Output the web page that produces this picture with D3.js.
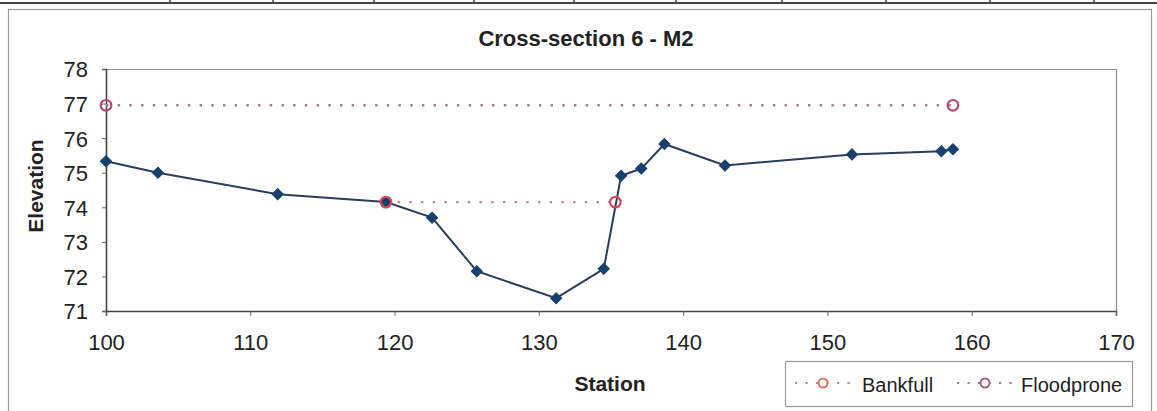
<!DOCTYPE html>
<html>
<head>
<meta charset="utf-8">
<script src="https://cdn.jsdelivr.net/npm/d3@7"></script>
<style>
  html, body { margin: 0; padding: 0; background: #fff; }
  svg { display: block; font-family: "Liberation Sans", Arial, sans-serif; }
</style>
</head>
<body>
<svg id="chart" width="1157" height="411"></svg>
<script>
// Surveyed ground profile (station, elevation)
const stations   = [100, 103.6, 111.9, 119.4, 122.6, 125.7, 131.2, 134.5, 135.7, 137.1, 138.7, 142.9, 151.7, 157.9, 158.7];
const elevations = [75.33, 75.0, 74.38, 74.15, 73.7, 72.15, 71.37, 72.22, 74.91, 75.12, 75.83, 75.21, 75.53, 75.62, 75.68];

// Bankfull and floodprone water surfaces
const bankfullStations   = [119.4, 135.3];
const bankfullElev       = [74.15, 74.15];
const floodproneStations = [100, 158.7];
const floodproneElev     = [76.95, 76.95];

// Axis ticks
const xTicks = [100, 110, 120, 130, 140, 150, 160, 170];
const yTicks = [71, 72, 73, 74, 75, 76, 77, 78];

const svg = d3.select("#chart");
const plot = { left: 106, right: 1116, top: 69, bottom: 311 };

const x = d3.scaleLinear().domain([100, 170]).range([plot.left, plot.right]);
const y = d3.scaleLinear().domain([71, 78]).range([plot.bottom, plot.top]);

// Document table rule above the chart
const tableCols = [170, 273, 374, 474, 574, 676, 782, 886, 990, 1094];
svg.append("line").attr("x1", 0).attr("x2", 1157).attr("y1", 3).attr("y2", 3)
  .attr("stroke", "#444").attr("stroke-width", 2);
svg.selectAll("line.tcol").data(tableCols).join("line").attr("class", "tcol")
  .attr("x1", d => d).attr("x2", d => d).attr("y1", 0).attr("y2", 4)
  .attr("stroke", "#444").attr("stroke-width", 1.5);

// Chart frame
svg.append("rect").attr("x", 8.5).attr("y", 9.5).attr("width", 1143).attr("height", 405)
  .attr("fill", "none").attr("stroke", "#9a9a9a").attr("stroke-width", 1.2);

// Title
svg.append("text").attr("x", 586).attr("y", 46).attr("text-anchor", "middle")
  .attr("font-size", 22).attr("font-weight", "bold").attr("fill", "#222")
  .text("Cross-section 6 - M2");

// Plot area border (top and right)
svg.append("path")
  .attr("d", `M${plot.left},${plot.top + 0.5}H${plot.right + 0.5}V${plot.bottom}`)
  .attr("fill", "none").attr("stroke", "#8c8c8c").attr("stroke-width", 1.2);

// Axes
const xAxis = d3.axisBottom(x).tickValues(xTicks).tickSize(5).tickPadding(18).tickFormat(d3.format("d"));
const yAxis = d3.axisLeft(y).tickValues(yTicks).tickSize(4).tickPadding(14).tickFormat(d3.format("d"));

const gx = svg.append("g").attr("transform", `translate(0,${plot.bottom})`).call(xAxis);
const gy = svg.append("g").attr("transform", `translate(${plot.left},0)`).call(yAxis);

[gx, gy].forEach(g => {
  g.select(".domain").attr("stroke", "#444").attr("stroke-width", 1.6);
  g.selectAll(".tick line").attr("stroke", "#666").attr("stroke-width", 1);
  g.selectAll(".tick text").attr("font-size", 22).attr("fill", "#222")
    .attr("font-family", "Liberation Sans, Arial, sans-serif");
});
gy.selectAll(".tick text").attr("dy", "0.36em");

// Axis titles
svg.append("text").attr("transform", "translate(43,186) rotate(-90)")
  .attr("text-anchor", "middle").attr("font-size", 21).attr("font-weight", "bold").attr("fill", "#222")
  .text("Elevation");
svg.append("text").attr("x", 610).attr("y", 391).attr("text-anchor", "middle")
  .attr("font-size", 21).attr("font-weight", "bold").attr("fill", "#222")
  .text("Station");

// Colours
const profileLine = "#2c3d58";
const profileMark = "#18406c";
const bankLine = "#b88894";
const bankMark = "#d4485a";
const floodLine = "#98808f";
const floodMark = "#b24a6c";

const line = d3.line().x(d => x(d[0])).y(d => y(d[1]));

// Floodprone level
const floodData = floodproneStations.map((s, i) => [s, floodproneElev[i]]);
svg.append("path").datum(floodData).attr("d", line)
  .attr("fill", "none").attr("stroke", floodLine).attr("stroke-width", 2.4)
  .attr("stroke-dasharray", "2.4,9.3").attr("stroke-linecap", "butt");

// Bankfull level
const bankData = bankfullStations.map((s, i) => [s, bankfullElev[i]]);
svg.append("path").datum(bankData).attr("d", line)
  .attr("fill", "none").attr("stroke", bankLine).attr("stroke-width", 2.4)
  .attr("stroke-dasharray", "2.4,9.3");

// Ground profile
const profile = stations.map((s, i) => [s, elevations[i]]);
svg.append("path").datum(profile).attr("d", line)
  .attr("fill", "none").attr("stroke", profileLine).attr("stroke-width", 2);

const diamond = d3.symbol(d3.symbolSquare, 62);
svg.selectAll("path.pt").data(profile).join("path").attr("class", "pt")
  .attr("d", diamond)
  .attr("transform", d => `translate(${x(d[0])},${y(d[1])}) rotate(45)`)
  .attr("fill", profileMark).attr("stroke", profileMark).attr("stroke-width", 1);

// Level markers
svg.selectAll("circle.bank").data(bankData).join("circle").attr("class", "bank")
  .attr("cx", d => x(d[0])).attr("cy", d => y(d[1])).attr("r", 5.3)
  .attr("fill", "none").attr("stroke", bankMark).attr("stroke-width", 2.2);
svg.selectAll("circle.flood").data(floodData).join("circle").attr("class", "flood")
  .attr("cx", d => x(d[0])).attr("cy", d => y(d[1])).attr("r", 5.3)
  .attr("fill", "none").attr("stroke", floodMark).attr("stroke-width", 2.2);

// Legend
const legend = svg.append("g");
legend.append("rect").attr("x", 785.5).attr("y", 361.5).attr("width", 347).attr("height", 45)
  .attr("fill", "#fff").attr("stroke", "#9a9a9a").attr("stroke-width", 1.2);

const legendItems = [
  { name: "Bankfull",   x0: 795, lineColor: bankLine,  markColor: "#e07268", textX: 862 },
  { name: "Floodprone", x0: 957, lineColor: floodLine, markColor: "#a5607e", textX: 1021 }
];
legendItems.forEach(it => {
  legend.append("line").attr("x1", it.x0).attr("x2", it.x0 + 62).attr("y1", 383).attr("y2", 383)
    .attr("stroke", it.lineColor).attr("stroke-width", 2.2).attr("stroke-dasharray", "2.2,8.3");
  legend.append("circle").attr("cx", it.x0 + 28).attr("cy", 383).attr("r", 4.5)
    .attr("fill", "#fff").attr("stroke", it.markColor).attr("stroke-width", 2);
  legend.append("text").attr("x", it.textX).attr("y", 392).attr("font-size", 20).attr("fill", "#222")
    .text(it.name);
});
</script>
</body>
</html>
